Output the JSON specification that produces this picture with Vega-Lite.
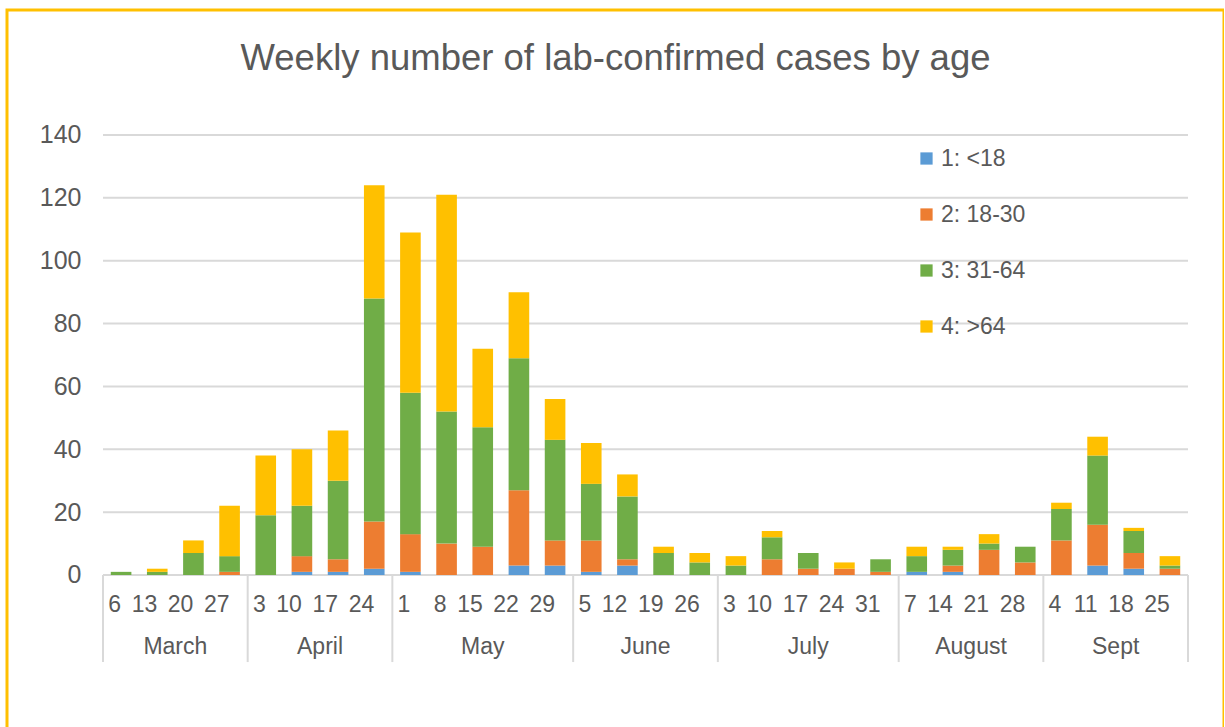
{
  "$schema": "https://vega.github.io/schema/vega-lite/v6.json",
  "width": 1217,
  "height": 725,
  "autosize": {"type": "none"},
  "padding": {"left": 7, "top": 10, "right": 0, "bottom": 0},
  "background": "white",
  "config": {
    "view": {"stroke": "#FFC000", "strokeWidth": 3},
    "font": "Liberation Sans",
    "text": {"font": "Liberation Sans"}
  },
  "title": {
    "text": "Weekly number  of lab-confirmed cases by age",
    "fontSize": 36.5,
    "fontWeight": "normal",
    "font": "Liberation Sans",
    "color": "#595959",
    "anchor": "middle",
    "frame": "group",
    "offset": -67
  },
  "datasets": {
    "cases": [
      {"week": "Mar 6", "1: <18": 0, "2: 18-30": 0, "3: 31-64": 1, "4: >64": 0},
      {"week": "Mar 13", "1: <18": 0, "2: 18-30": 0, "3: 31-64": 1, "4: >64": 1},
      {"week": "Mar 20", "1: <18": 0, "2: 18-30": 0, "3: 31-64": 7, "4: >64": 4},
      {"week": "Mar 27", "1: <18": 0, "2: 18-30": 1, "3: 31-64": 5, "4: >64": 16},
      {"week": "Apr 3", "1: <18": 0, "2: 18-30": 0, "3: 31-64": 19, "4: >64": 19},
      {"week": "Apr 10", "1: <18": 1, "2: 18-30": 5, "3: 31-64": 16, "4: >64": 18},
      {"week": "Apr 17", "1: <18": 1, "2: 18-30": 4, "3: 31-64": 25, "4: >64": 16},
      {"week": "Apr 24", "1: <18": 2, "2: 18-30": 15, "3: 31-64": 71, "4: >64": 36},
      {"week": "May 1", "1: <18": 1, "2: 18-30": 12, "3: 31-64": 45, "4: >64": 51},
      {"week": "May 8", "1: <18": 0, "2: 18-30": 10, "3: 31-64": 42, "4: >64": 69},
      {"week": "May 15", "1: <18": 0, "2: 18-30": 9, "3: 31-64": 38, "4: >64": 25},
      {"week": "May 22", "1: <18": 3, "2: 18-30": 24, "3: 31-64": 42, "4: >64": 21},
      {"week": "May 29", "1: <18": 3, "2: 18-30": 8, "3: 31-64": 32, "4: >64": 13},
      {"week": "Jun 5", "1: <18": 1, "2: 18-30": 10, "3: 31-64": 18, "4: >64": 13},
      {"week": "Jun 12", "1: <18": 3, "2: 18-30": 2, "3: 31-64": 20, "4: >64": 7},
      {"week": "Jun 19", "1: <18": 0, "2: 18-30": 0, "3: 31-64": 7, "4: >64": 2},
      {"week": "Jun 26", "1: <18": 0, "2: 18-30": 0, "3: 31-64": 4, "4: >64": 3},
      {"week": "Jul 3", "1: <18": 0, "2: 18-30": 0, "3: 31-64": 3, "4: >64": 3},
      {"week": "Jul 10", "1: <18": 0, "2: 18-30": 5, "3: 31-64": 7, "4: >64": 2},
      {"week": "Jul 17", "1: <18": 0, "2: 18-30": 2, "3: 31-64": 5, "4: >64": 0},
      {"week": "Jul 24", "1: <18": 0, "2: 18-30": 2, "3: 31-64": 0, "4: >64": 2},
      {"week": "Jul 31", "1: <18": 0, "2: 18-30": 1, "3: 31-64": 4, "4: >64": 0},
      {"week": "Aug 7", "1: <18": 1, "2: 18-30": 0, "3: 31-64": 5, "4: >64": 3},
      {"week": "Aug 14", "1: <18": 1, "2: 18-30": 2, "3: 31-64": 5, "4: >64": 1},
      {"week": "Aug 21", "1: <18": 0, "2: 18-30": 8, "3: 31-64": 2, "4: >64": 3},
      {"week": "Aug 28", "1: <18": 0, "2: 18-30": 4, "3: 31-64": 5, "4: >64": 0},
      {"week": "Sep 4", "1: <18": 0, "2: 18-30": 11, "3: 31-64": 10, "4: >64": 2},
      {"week": "Sep 11", "1: <18": 3, "2: 18-30": 13, "3: 31-64": 22, "4: >64": 6},
      {"week": "Sep 18", "1: <18": 2, "2: 18-30": 5, "3: 31-64": 7, "4: >64": 1},
      {"week": "Sep 25", "1: <18": 0, "2: 18-30": 2, "3: 31-64": 1, "4: >64": 3}
    ],
    "months": [
      {"month": "March", "first": "Mar 6", "mid": "Mar 20", "n": 4},
      {"month": "April", "first": "Apr 3", "mid": "Apr 17", "n": 4},
      {"month": "May", "first": "May 1", "mid": "May 15", "n": 5},
      {"month": "June", "first": "Jun 5", "mid": "Jun 19", "n": 4},
      {"month": "July", "first": "Jul 3", "mid": "Jul 17", "n": 5},
      {"month": "August", "first": "Aug 7", "mid": "Aug 21", "n": 4},
      {"month": "Sept", "first": "Sep 4", "mid": "Sep 18", "n": 4}
    ],
    "grid": [{"v": 0}, {"v": 20}, {"v": 40}, {"v": 60}, {"v": 80}, {"v": 100}, {"v": 120}, {"v": 140}]
  },
  "layer": [
    {
      "data": {"name": "grid"},
      "mark": {"type": "rule", "color": "#D9D9D9", "strokeWidth": 2},
      "encoding": {
        "y": {
          "field": "v", "type": "quantitative", "title": null,
          "scale": {"domain": [-50.91, 179.77], "nice": false, "zero": false},
          "axis": {
            "orient": "left", "offset": -96, "values": [0, 20, 40, 60, 80, 100, 120, 140],
            "grid": false, "domain": false, "ticks": false, "labelPadding": 22,
            "labelFontSize": 25, "labelColor": "#595959", "labelFont": "Liberation Sans", "title": null
          }
        },
        "x": {"datum": "Mar 6", "type": "ordinal", "bandPosition": 0},
        "x2": {"datum": "Sep 25", "bandPosition": 1}
      }
    },
    {
      "data": {"name": "cases"},
      "transform": [
        {"fold": ["1: <18", "2: 18-30", "3: 31-64", "4: >64"], "as": ["age", "cases"]}
      ],
      "mark": {"type": "bar", "width": {"band": 0.57}},
      "encoding": {
        "x": {
          "field": "week", "type": "ordinal", "title": null,
          "scale": {
            "type": "band",
            "domain": ["Mar 6","Mar 13","Mar 20","Mar 27","Apr 3","Apr 10","Apr 17","Apr 24","May 1","May 8","May 15","May 22","May 29","Jun 5","Jun 12","Jun 19","Jun 26","Jul 3","Jul 10","Jul 17","Jul 24","Jul 31","Aug 7","Aug 14","Aug 21","Aug 28","Sep 4","Sep 11","Sep 18","Sep 25"],
            "range": [96, 1181],
            "paddingInner": 0, "paddingOuter": 0
          },
          "axis": {
            "orient": "bottom", "offset": -160, "labelExpr": "split(datum.label, ' ')[1]",
            "labelAngle": 0, "domain": false, "ticks": false, "grid": false,
            "labelPadding": 29, "labelFontSize": 23, "labelColor": "#595959", "labelFont": "Liberation Sans", "title": null
          }
        },
        "y": {"field": "cases", "type": "quantitative", "stack": "zero", "title": null},
        "color": {
          "field": "age", "type": "nominal",
          "scale": {
            "domain": ["1: <18", "2: 18-30", "3: 31-64", "4: >64"],
            "range": ["#5B9BD5", "#ED7D31", "#70AD47", "#FFC000"]
          },
          "legend": {
            "orient": "none", "legendX": 908, "legendY": 137, "title": null,
            "symbolType": "square", "symbolSize": 150, "symbolStrokeWidth": 0,
            "labelFontSize": 23, "labelColor": "#595959", "labelFont": "Liberation Sans",
            "rowPadding": 32, "labelOffset": 3, "padding": 0
          }
        },
        "order": {"field": "age", "sort": "ascending"}
      }
    },
    {
      "data": {"name": "months"},
      "mark": {"type": "rule", "color": "#D9D9D9", "strokeWidth": 2},
      "encoding": {
        "x": {"field": "first", "type": "ordinal", "bandPosition": 0, "title": null},
        "y": {"datum": 0},
        "y2": {"datum": -27.7}
      }
    },
    {
      "data": {"values": [{"end": "Sep 25"}]},
      "mark": {"type": "rule", "color": "#D9D9D9", "strokeWidth": 2},
      "encoding": {
        "x": {"field": "end", "type": "ordinal", "bandPosition": 1, "title": null},
        "y": {"datum": 0},
        "y2": {"datum": -27.7}
      }
    },
    {
      "data": {"name": "months"},
      "transform": [{"filter": "datum.n == 4"}],
      "mark": {"type": "text", "fontSize": 23, "color": "#595959", "baseline": "middle", "font": "Liberation Sans"},
      "encoding": {
        "x": {"field": "mid", "type": "ordinal", "bandPosition": 0, "title": null},
        "y": {"datum": -22.9},
        "text": {"field": "month"}
      }
    },
    {
      "data": {"name": "months"},
      "transform": [{"filter": "datum.n == 5"}],
      "mark": {"type": "text", "fontSize": 23, "color": "#595959", "baseline": "middle", "font": "Liberation Sans"},
      "encoding": {
        "x": {"field": "mid", "type": "ordinal", "bandPosition": 0.5, "title": null},
        "y": {"datum": -22.9},
        "text": {"field": "month"}
      }
    }
  ]
}
